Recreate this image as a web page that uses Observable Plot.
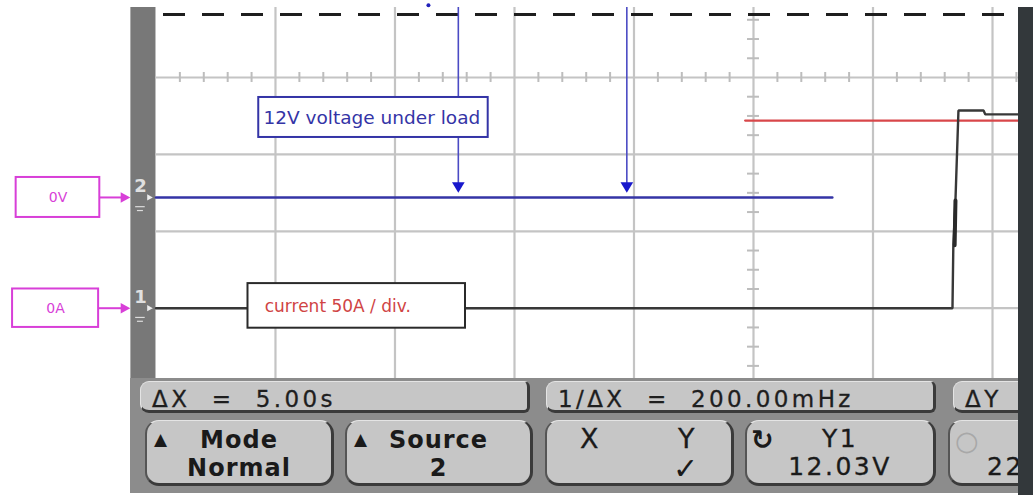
<!DOCTYPE html>
<html>
<head>
<meta charset="utf-8">
<script src="https://cdn.jsdelivr.net/npm/d3@7"></script>
<script src="https://cdn.jsdelivr.net/npm/@observablehq/plot@0.6"></script>
<style>
  body { margin: 0; background: #fff; }
  #wrap { position: relative; width: 1033px; height: 495px; overflow: hidden; font-family: "DejaVu Sans", sans-serif; }
  #chart { position: absolute; left: 0; top: 0; }
  #panel { position: absolute; left: 130px; top: 378px; width: 888px; height: 115px; background: #8c8c8c; }
  .rd { position: absolute; top: 3px; height: 32px; box-sizing: border-box; background: #c6c6c6;
        border: 1px solid #e4e4e4; border-bottom: 3px solid #3a3a3a; border-right: 3px solid #3a3a3a;
        border-radius: 9px 6px 6px 9px; font-size: 23px; letter-spacing: 3.4px; color: #1e1e1e;
        line-height: 28px; padding-top: 3px; padding-left: 11px; white-space: pre; overflow: hidden;
        -webkit-text-stroke: 0.3px #1e1e1e; }
  .sk { position: absolute; top: 42px; height: 66px; box-sizing: border-box; background: #c6c6c6;
        border: 1px solid #e4e4e4; border-bottom: 3px solid #3a3a3a; border-right: 3px solid #3a3a3a;
        border-left: 2px solid #555; border-radius: 14px; color: #1a1a1a; overflow: hidden; }
  .sk span { position: absolute; white-space: pre; line-height: 26px; }
  .b { font-weight: bold; font-size: 24px; letter-spacing: 1px; }
  .r { font-size: 25px; letter-spacing: 2.5px; -webkit-text-stroke: 0.3px #1a1a1a; }
  #strip { position: absolute; left: 1018px; top: 7px; width: 15px; height: 488px; background: #33383b; }
</style>
</head>
<body>
<div id="wrap">
  <div id="chart"></div>
  <div id="panel"></div>
  <div id="strip"></div>
</div>
<script>
// ---- data (time and level in screen divisions from the screen centre) ----
const gridTimes = [-4, -3, -2, -1, 0, 1, 2];
const gridLevels = [0, -1, -2, -3];
const screenLeft = -5, screenRight = 2.22, screenTop = 0.91, screenBottom = -3.914;

const ch2Time  = [-5, 0.66];
const ch2Level = [-1.56, -1.56];

const ch1Time  = [-5, 1.665, 1.672, 1.69, 1.715, 1.925, 1.94, 2.22];
const ch1Level = [-3.0, -3.0, -2.2, -1.6, -0.43, -0.43, -0.48, -0.48];
const glitchTime  = [1.69, 1.683];
const glitchLevel = [-1.6, -2.18];

const refTime  = [-0.07, 2.22];
const refLevel = [-0.56, -0.56];

const triggerLevel = 0.82;
const triggerStart = -4.937;

const cursorTimes = [-2.47, -1.06];
const cursorTipLevel = -1.43;

const noteLabels = ["12V voltage under load", "current 50A / div."];
const noteX1 = [-4.14, -4.23], noteX2 = [-2.22, -2.41];
const noteY1 = [-0.26, -2.68], noteY2 = [-0.78, -3.26];
const noteTextX = [-4.10, -4.09], noteTextY = [-0.53, -2.98];

const groundLabels = ["0V", "0A"];
const groundChannels = ["2", "1"];
const groundLevels = [-1.56, -3.0];
const groundX1 = [-6.17, -6.20], groundX2 = [-5.47, -5.48];
const groundHalf = [0.26, 0.25];

const readouts = ["ΔX  =  5.00s", "1/ΔX  =  200.00mHz", "ΔY"];

// ---- derived tables ----
const ch2 = ch2Time.map((t, i) => ({t, v: ch2Level[i]}));
const ch1 = ch1Time.map((t, i) => ({t, v: ch1Level[i]}));
const glitch = glitchTime.map((t, i) => ({t, v: glitchLevel[i]}));
const ref = refTime.map((t, i) => ({t, v: refLevel[i]}));
const notes = noteLabels.map((label, i) => ({label, x1: noteX1[i], x2: noteX2[i], y1: noteY1[i], y2: noteY2[i], tx: noteTextX[i], ty: noteTextY[i]}));
const grounds = groundLabels.map((label, i) => ({label, ch: groundChannels[i], v: groundLevels[i], x1: groundX1[i], x2: groundX2[i], h: groundHalf[i]}));
const minorX = d3.range(-25, 12).map(i => i / 5).filter(t => Math.abs(t - Math.round(t)) > 1e-6);
const minorY = d3.range(-15, 4).map(i => i / 4).filter(t => Math.abs(t - Math.round(t)) > 1e-6);

const triDown = {draw(ctx, size) { const s = Math.sqrt(size); ctx.moveTo(-s * 0.55, -s * 0.45); ctx.lineTo(s * 0.55, -s * 0.45); ctx.lineTo(0, s * 0.45); ctx.closePath(); }};
const triRight = {draw(ctx, size) { const s = Math.sqrt(size); ctx.moveTo(-s * 0.45, -s * 0.5); ctx.lineTo(s * 0.45, 0); ctx.lineTo(-s * 0.45, s * 0.5); ctx.closePath(); }};

const blue = "#3434a6", magenta = "#d83fd8";

const chart = Plot.plot({
  width: 1033,
  height: 378,
  margin: 0,
  x: {domain: [-6.301, 2.343], axis: null},
  y: {domain: [-3.914, 1.001], axis: null},
  style: {background: "transparent", fontFamily: "DejaVu Sans, sans-serif", overflow: "visible"},
  marks: [
    // left channel bar
    Plot.rect([0], {x1: -5.21, x2: screenLeft, y1: screenBottom, y2: screenTop, fill: "#787878"}),
    // graticule
    Plot.ruleX(gridTimes, {y1: screenBottom, y2: screenTop, stroke: "#c4c4c4", strokeWidth: 2.2}),
    Plot.ruleY(gridLevels, {x1: screenLeft, x2: screenRight, stroke: "#c4c4c4", strokeWidth: 2.2}),
    Plot.ruleX(minorX, {y1: -0.065, y2: 0.065, stroke: "#bdbdbd", strokeWidth: 2}),
    Plot.ruleY(minorY, {x1: -0.05, x2: 0.05, stroke: "#bdbdbd", strokeWidth: 2}),
    // trigger level
    Plot.ruleY([triggerLevel], {x1: triggerStart, x2: screenRight, stroke: "#1e1e1e", strokeWidth: 3, strokeDasharray: "22,17"}),
    // reference level
    Plot.line(ref, {x: "t", y: "v", stroke: "#d8474a", strokeWidth: 2.2}),
    // traces
    Plot.line(ch2, {x: "t", y: "v", stroke: blue, strokeWidth: 2.4}),
    Plot.line(ch1, {x: "t", y: "v", stroke: "#383838", strokeWidth: 2.4, strokeLinejoin: "miter"}),
    Plot.line(glitch, {x: "t", y: "v", stroke: "#2a2a2a", strokeWidth: 4}),
    // cursors with arrowheads
    Plot.ruleX(cursorTimes, {y1: cursorTipLevel, y2: screenTop, stroke: "#4b4bc4", strokeWidth: 1.6}),
    Plot.dot(cursorTimes, {x: d => d, y: cursorTipLevel, symbol: triDown, r: 6.5, fill: "#1818cc", stroke: null}),
    Plot.dot([-2.72], {x: d => d, y: 0.94, r: 2, fill: "#2222bb"}),
    // annotation boxes
    Plot.rect(notes, {x1: "x1", x2: "x2", y1: "y1", y2: "y2", fill: "white", stroke: (d, i) => i === 0 ? blue : "#2a2a2a", strokeWidth: 2}),
    Plot.text(notes, {x: "tx", y: "ty", text: "label", textAnchor: "start", fontSize: (d, i) => i === 0 ? 18.5 : 17, fill: (d, i) => i === 0 ? blue : "#d04444"}),
    // ground reference labels
    Plot.rect(grounds, {x1: "x1", x2: "x2", y1: d => d.v + d.h, y2: d => d.v - d.h, fill: "white", stroke: magenta, strokeWidth: 2}),
    Plot.text(grounds, {x: d => (d.x1 + d.x2) / 2, y: "v", text: "label", fontSize: 14, fill: magenta}),
    Plot.ruleY(grounds, {y: "v", x1: "x2", x2: -5.27, stroke: magenta, strokeWidth: 2}),
    Plot.dot(grounds, {x: -5.255, y: "v", symbol: triRight, r: 6, fill: magenta}),
    // channel ground markers on the bar
    Plot.text(grounds, {x: -5.13, y: d => d.v + 0.14, text: "ch", fontSize: 18, fontWeight: "bold", fill: "#e0e0e0"}),
    Plot.dot(grounds, {x: -5.05, y: "v", symbol: triRight, r: 3.5, fill: "#eeeeee"}),
    Plot.ruleY(grounds, {y: d => d.v - 0.12, x1: -5.17, x2: -5.09, stroke: "#dddddd", strokeWidth: 1.2}),
    Plot.ruleY(grounds, {y: d => d.v - 0.17, x1: -5.155, x2: -5.105, stroke: "#dddddd", strokeWidth: 1.2})
  ]
});
document.getElementById("chart").appendChild(chart);

// ---- soft-key / readout panel ----
const panel = document.getElementById("panel");
const rdLeft = [10, 416, 823], rdWidth = [390, 390, 90];
readouts.forEach((txt, i) => {
  const d = document.createElement("div");
  d.className = "rd";
  d.style.left = rdLeft[i] + "px";
  d.style.width = rdWidth[i] + "px";
  d.textContent = txt;
  panel.appendChild(d);
});

const softkeys = [
  {left: 15, width: 189, items: [
    {t: "▲", cls: "b", x: 7, y: 5, fs: 17},
    {t: "Mode", cls: "b", cx: true, y: 6},
    {t: "Normal", cls: "b", cx: true, y: 34}]},
  {left: 215, width: 188, items: [
    {t: "▲", cls: "b", x: 7, y: 5, fs: 17},
    {t: "Source", cls: "b", cx: true, y: 6},
    {t: "2", cls: "b", cx: true, y: 34}]},
  {left: 415, width: 189, items: [
    {t: "X", cls: "r", x: 33, y: 5, fs: 27},
    {t: "Y", cls: "r", x: 131, y: 5, fs: 27},
    {t: "✓", cls: "b", x: 126, y: 35, fs: 30}]},
  {left: 615, width: 191, items: [
    {t: "↻", cls: "b", x: 4, y: 6, fs: 27},
    {t: "Y1", cls: "r", cx: true, y: 5},
    {t: "12.03V", cls: "r", cx: true, y: 33}]},
  {left: 818, width: 90, items: [
    {t: "○", cls: "r", x: 5, y: 7, fs: 27, color: "#a8a8a8"},
    {t: "22", cls: "r", x: 37, y: 33}]}
];
softkeys.forEach(k => {
  const d = document.createElement("div");
  d.className = "sk";
  d.style.left = k.left + "px";
  d.style.width = k.width + "px";
  k.items.forEach(it => {
    const s = document.createElement("span");
    s.className = it.cls;
    s.textContent = it.t;
    s.style.top = it.y + "px";
    if (it.fs) s.style.fontSize = it.fs + "px";
    if (it.color) { s.style.color = it.color; s.style.webkitTextStroke = "0"; }
    if (it.cx) { s.style.left = "0"; s.style.width = (k.width - 5) + "px"; s.style.textAlign = "center"; }
    else s.style.left = it.x + "px";
    d.appendChild(s);
  });
  panel.appendChild(d);
});
</script>
</body>
</html>
